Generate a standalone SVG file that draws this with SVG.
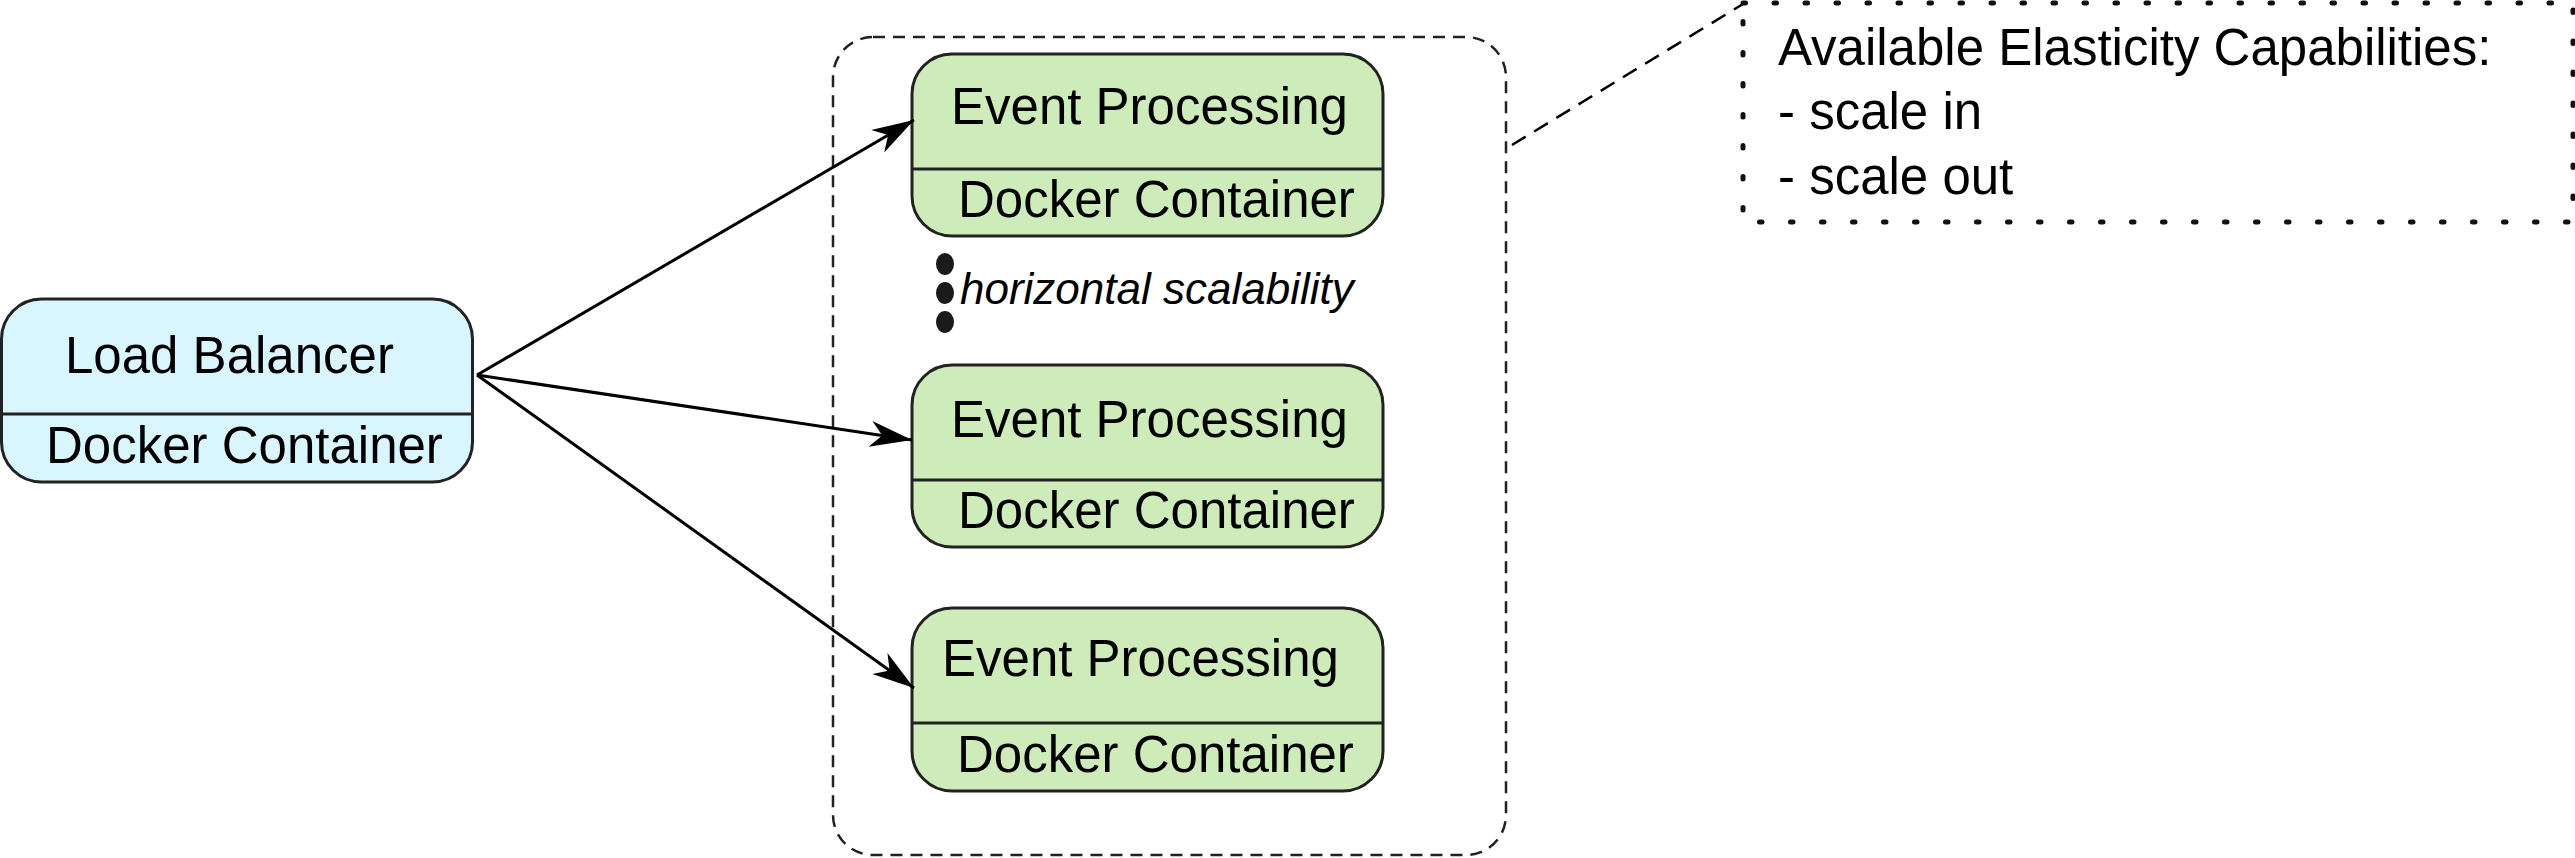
<svg xmlns="http://www.w3.org/2000/svg" width="2575" height="858" viewBox="0 0 2575 858">
<style>
.box{stroke:#222;stroke-width:3}
.lb{fill:#d9f6fe}
.ep{fill:#cdecb9}
.div{stroke:#222;stroke-width:3}
.t{font-family:"Liberation Sans",Arial,sans-serif;font-size:51px;fill:#000}
.it{font-family:"Liberation Sans",Arial,sans-serif;font-size:44px;font-style:italic;fill:#000}
.conn{stroke:#000;stroke-width:3;fill:none}
</style>
<defs>
<marker id="arr" markerUnits="userSpaceOnUse" markerWidth="50" markerHeight="30" viewBox="-44 -15 46 30" refX="0" refY="0" orient="auto">
<path d="M0,0 L-42,-13 L-30,0 L-42,13 Z" fill="#000"/>
</marker>
</defs>
<g id="scaling-group">
<rect x="833" y="37" width="673" height="818" rx="40" ry="40" fill="none" stroke="#222" stroke-width="2.5" stroke-dasharray="12 8"/>
</g>
<g id="note">
<rect x="1743" y="3" width="830" height="219" fill="none" stroke="#111" stroke-width="5" stroke-linecap="round" stroke-dasharray="2.5 28.5"/>
<text class="t" x="1778" y="65">Available Elasticity Capabilities:</text>
<text class="t" x="1778" y="129">- scale in</text>
<text class="t" x="1778" y="194">- scale out</text>
</g>
<g id="load-balancer">
<rect class="box lb" x="1.5" y="299" width="471" height="183" rx="40" ry="40"/>
<line class="div" x1="1.5" y1="414" x2="472.5" y2="414"/>
<text class="t" x="65" y="373">Load Balancer</text>
<text class="t" x="46" y="463">Docker Container</text>
</g>
<g id="event-processing-1">
<rect class="box ep" x="912" y="54" width="471" height="182" rx="40" ry="40"/>
<line class="div" x1="912" y1="169" x2="1383" y2="169"/>
<text class="t" x="951" y="124">Event Processing</text>
<text class="t" x="958" y="217">Docker Container</text>
</g>
<g id="event-processing-2">
<rect class="box ep" x="912" y="365" width="471" height="182" rx="40" ry="40"/>
<line class="div" x1="912" y1="480" x2="1383" y2="480"/>
<text class="t" x="951" y="437">Event Processing</text>
<text class="t" x="958" y="528">Docker Container</text>
</g>
<g id="event-processing-3">
<rect class="box ep" x="912" y="608" width="471" height="183" rx="40" ry="40"/>
<line class="div" x1="912" y1="723" x2="1383" y2="723"/>
<text class="t" x="942" y="676">Event Processing</text>
<text class="t" x="957" y="772">Docker Container</text>
</g>
<g id="scalability-label">
<ellipse cx="945" cy="264" rx="9" ry="11" fill="#1a1a1a"/>
<ellipse cx="945" cy="293" rx="9" ry="11" fill="#1a1a1a"/>
<ellipse cx="945" cy="322" rx="9" ry="11" fill="#1a1a1a"/>
<text class="it" x="960" y="304">horizontal scalability</text>
</g>
<g id="connectors">
<line class="conn" x1="477" y1="375" x2="914" y2="120" marker-end="url(#arr)"/>
<line class="conn" x1="477" y1="375" x2="912" y2="440" marker-end="url(#arr)"/>
<line class="conn" x1="477" y1="375" x2="914" y2="688" marker-end="url(#arr)"/>
<line x1="1512" y1="145" x2="1743" y2="4" stroke="#000" stroke-width="2.5" stroke-dasharray="16 10"/>
</g>
</svg>
